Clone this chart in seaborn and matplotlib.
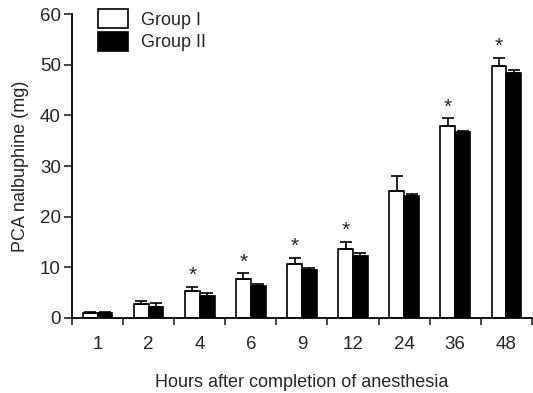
import matplotlib
matplotlib.use("Agg")
import matplotlib.pyplot as plt
import seaborn as sns
import pandas as pd
import numpy as np

hours = ["1", "2", "4", "6", "9", "12", "24", "36", "48"]
group1 = [1.0, 2.8, 5.3, 7.7, 10.6, 13.6, 25.1, 37.9, 49.7]
group1_err = [0.1, 0.5, 0.9, 1.1, 1.3, 1.4, 2.9, 1.5, 1.6]
group2 = [1.0, 2.2, 4.3, 6.4, 9.5, 12.2, 24.1, 36.7, 48.3]
group2_err = [0.1, 0.7, 0.6, 0.4, 0.4, 0.7, 0.3, 0.2, 0.6]
significant = [False, False, True, True, True, True, False, True, True]
groups = ["Group I", "Group II"]

sns.set_theme(style="ticks")
plt.rcParams["font.family"] = ["Liberation Sans", "DejaVu Sans"]

df = pd.DataFrame({
    "hours": hours * 2,
    "value": group1 + group2,
    "group": [groups[0]] * len(hours) + [groups[1]] * len(hours),
})

fig = plt.figure(figsize=(5.33, 3.93), dpi=100)
ax = fig.add_axes([0.135, 0.191, 0.863, 0.773])

sns.barplot(data=df, x="hours", y="value", hue="group", order=hours,
            hue_order=groups, palette={"Group I": "white", "Group II": "black"},
            edgecolor="black", linewidth=1.2, width=0.58, errorbar=None,
            ax=ax, legend=True)

# error bars (upper only) positioned at bar centers
n = len(hours)
patches = [p for p in ax.patches if p.get_width() > 0][: 2 * n]
for i, p in enumerate(patches):
    xc = p.get_x() + p.get_width() / 2
    if i < n:
        v, e = group1[i], group1_err[i]
    else:
        v, e = group2[i - n], group2_err[i - n]
    ax.errorbar(xc, v, yerr=[[0], [e]], fmt="none", ecolor="black",
                elinewidth=1.2, capsize=4, capthick=1.2)
    if i < n and significant[i]:
        ax.text(xc, v + e + 0.4, "*", ha="center", va="bottom", fontsize=15)

ax.set_ylim(0, 60)
ax.set_xlim(-0.5, n - 0.5)
ax.set_yticks([0, 10, 20, 30, 40, 50, 60])
ax.set_xlabel("Hours after completion of anesthesia", fontsize=13, labelpad=15)
ax.set_ylabel("PCA nalbuphine (mg)", fontsize=13, labelpad=8)
ax.tick_params(axis="y", labelsize=13.5, length=6, width=1.2, direction="out", pad=2)
ax.tick_params(axis="x", which="major", labelsize=13.5, length=0, pad=13)
ax.set_xticks(np.arange(-0.5, n, 1.0), minor=True)
ax.tick_params(axis="x", which="minor", length=5, width=1.2, direction="out")
for s in ["top", "right"]:
    ax.spines[s].set_visible(False)
for s in ["left", "bottom"]:
    ax.spines[s].set_linewidth(1.3)
    ax.spines[s].set_color("black")

leg = ax.legend(loc="upper left", bbox_to_anchor=(0.04, 1.04), frameon=False,
                fontsize=13, handlelength=1.7, handleheight=1.25,
                handletextpad=0.7, labelspacing=0.15, borderaxespad=0)

fig.savefig("out.png", dpi=100)
